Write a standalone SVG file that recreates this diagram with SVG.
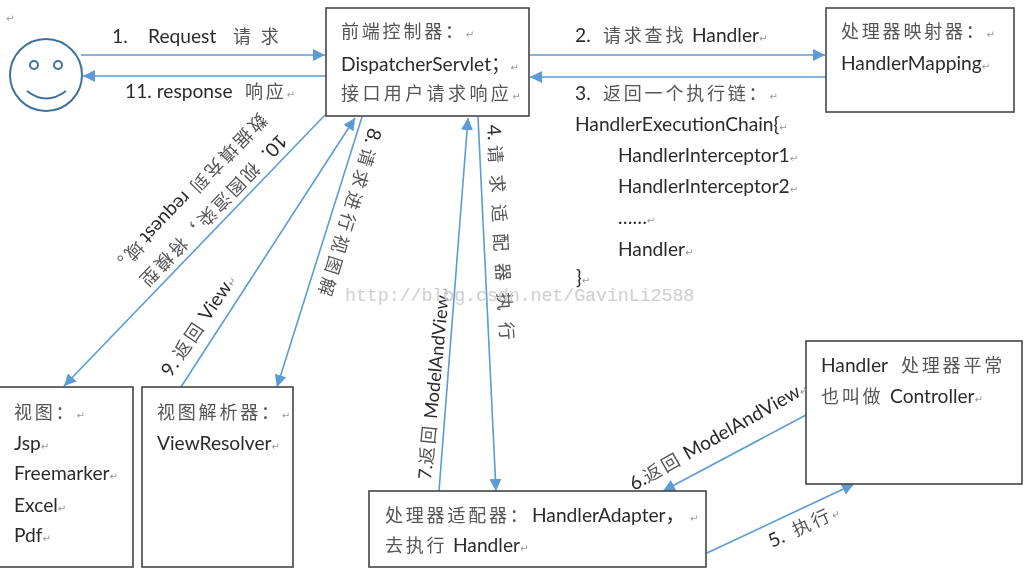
<svg xmlns="http://www.w3.org/2000/svg" width="1025" height="571" viewBox="0 0 1025 571">
<defs>
<marker id="ah" markerUnits="userSpaceOnUse" markerWidth="13" markerHeight="13" refX="12" refY="6.5" orient="auto"><path d="M0 0.5L12 6.5L0 12.5Z" fill="#5b9bd5"/></marker>
<filter id="soft" x="0" y="0" width="1025" height="571" filterUnits="userSpaceOnUse"><feGaussianBlur stdDeviation="0.45"/></filter>
</defs>
<style>
text{font-family:"Lato","Noto Sans CJK SC",sans-serif;font-size:19.2px;fill:#2b2b2b}
.c{font-family:"Noto Sans CJK SC",sans-serif;font-size:18px;letter-spacing:2.8px;fill:#555}
.r{font-family:"DejaVu Sans",sans-serif;font-size:10px;fill:#999;letter-spacing:0}
.b{fill:#fff;stroke:#444;stroke-width:1.6}
.e{fill:none;stroke:#5b9bd5;stroke-width:1.6;marker-end:url(#ah)}
.s{fill:#fff;stroke:#41719c;stroke-width:2}
.wm{font-family:"Liberation Mono",monospace;font-size:18.2px;fill:#cfcfcf}
</style>
<rect width="1025" height="571" fill="#fff"/>
<g filter="url(#soft)">
<text x="6" y="22" class="r">↵</text>
<g id="user">
<circle class="s" cx="46" cy="75" r="36"/>
<circle class="s" cx="34" cy="65" r="4"/>
<circle class="s" cx="58" cy="65" r="4"/>
<path d="M27 91Q46 106 66 91" fill="none" stroke="#41719c" stroke-width="2"/>
</g>
<g id="connectors">
<path class="e" d="M81 55H325"/>
<path class="e" d="M326 76H83"/>
<path class="e" d="M529 55H825"/>
<path class="e" d="M826 77H530"/>
<path class="e" d="M325 115L64 386"/>
<path class="e" d="M181 387L355 118"/>
<path class="e" d="M362 117L277 387"/>
<path class="e" d="M439 491L468 118"/>
<path class="e" d="M478 117L496 491"/>
<path class="e" d="M806 415L663 491"/>
<path class="e" d="M707 553L854 484"/>
</g>
<g id="dispatcher-servlet">
<rect class="b" x="326" y="8" width="203" height="108"/>
<text x="341" y="38" class="c">前端控制器：<tspan class="r">↵</tspan></text>
<text x="341" y="71">DispatcherServlet；<tspan class="r">↵</tspan></text>
<text x="341" y="100" class="c" style="letter-spacing:3.4px">接口用户请求响应<tspan class="r">↵</tspan></text>
</g>
<g id="handler-mapping">
<rect class="b" x="826" y="8" width="188" height="104"/>
<text x="841" y="38" class="c">处理器映射器：<tspan class="r">↵</tspan></text>
<text x="841" y="70">HandlerMapping<tspan class="r">↵</tspan></text>
</g>
<g id="handler">
<rect class="b" x="806" y="341" width="216" height="143"/>
<text x="821" y="372">Handler</text><text x="901" y="372" class="c">处理器平常</text>
<text x="821" y="403" class="c">也叫做</text><text x="890" y="403">Controller<tspan class="r">↵</tspan></text>
</g>
<g id="handler-adapter">
<rect class="b" x="369" y="491" width="337" height="76"/>
<text x="385" y="522" class="c">处理器适配器：</text><text x="532" y="522">HandlerAdapter，</text><text x="690" y="522" class="r">↵</text>
<text x="385" y="552" class="c">去执行</text><text x="453" y="552">Handler<tspan class="r">↵</tspan></text>
</g>
<g id="view">
<rect class="b" x="-2" y="387" width="135" height="180"/>
<text x="14" y="419" class="c">视图：<tspan class="r">↵</tspan></text>
<text x="14" y="450">Jsp<tspan class="r">↵</tspan></text>
<text x="14" y="480">Freemarker<tspan class="r">↵</tspan></text>
<text x="14" y="512">Excel<tspan class="r">↵</tspan></text>
<text x="14" y="542">Pdf<tspan class="r">↵</tspan></text>
</g>
<g id="view-resolver">
<rect class="b" x="142" y="387" width="151" height="180"/>
<text x="157" y="419" class="c">视图解析器：<tspan class="r">↵</tspan></text>
<text x="157" y="450">ViewResolver<tspan class="r">↵</tspan></text>
</g>
<g id="connector-labels">
<text x="112" y="43">1.</text><text x="148" y="43">Request</text><text x="233" y="43" class="c">请 求</text>
<text x="125" y="98">11. response</text><text x="245" y="98" class="c">响应<tspan class="r">↵</tspan></text>
<text x="575" y="42">2.</text><text x="603" y="42" class="c">请求查找</text><text x="692" y="42">Handler<tspan class="r">↵</tspan></text>
<text x="575" y="100">3.</text><text x="603" y="100" class="c">返回一个执行链：<tspan class="r">↵</tspan></text>
<text x="575" y="131">HandlerExecutionChain{<tspan class="r">↵</tspan></text>
<text x="618" y="162">HandlerInterceptor1<tspan class="r">↵</tspan></text>
<text x="618" y="193">HandlerInterceptor2<tspan class="r">↵</tspan></text>
<text x="618" y="224">……<tspan class="r">↵</tspan></text>
<text x="618" y="256">Handler<tspan class="r">↵</tspan></text>
<text x="576" y="284">}<tspan class="r">↵</tspan></text>
<text transform="translate(279 133) rotate(134)">10. <tspan class="c" dx="7">视图渲染，将模型</tspan></text>
<text transform="translate(259 112) rotate(134)"><tspan class="c">数据填充到</tspan> request <tspan class="c">域。</tspan></text>
<text transform="translate(171 378) rotate(-56)">9. <tspan class="c">返回</tspan> View<tspan class="r">↵</tspan></text>
<text transform="translate(369 127) rotate(107)">8. <tspan class="c" style="letter-spacing:4.6px">请求进行视图解</tspan></text>
<text transform="translate(431 480) rotate(-84.5)" style="font-size:18.2px">7.<tspan class="c">返回</tspan> ModelAndView<tspan class="r">↵</tspan></text>
<text transform="translate(487 125) rotate(86.4)">4. <tspan class="c" style="letter-spacing:11.5px">请求适配器执行</tspan></text>
<text transform="translate(634 491) rotate(-29.6)">6.<tspan class="c">返回</tspan> ModelAndView<tspan class="r">↵</tspan></text>
<text transform="translate(772 548) rotate(-25)">5.  <tspan class="c" dx="6">执行</tspan><tspan class="r">↵</tspan></text>
</g>
</g>
<text class="wm" x="345" y="301">http://blog.csdn.net/GavinLi2588</text>
</svg>
